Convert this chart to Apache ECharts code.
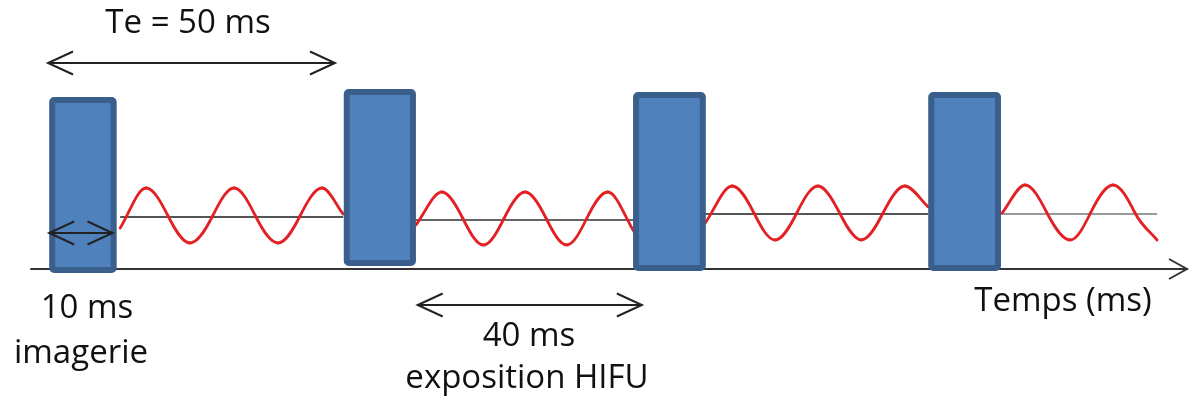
<!DOCTYPE html>
<html>
<head>
<meta charset="utf-8">
<script src="https://cdn.jsdelivr.net/npm/echarts@6/dist/echarts.min.js"></script>
<style>
  html, body { margin: 0; padding: 0; background: #ffffff; }
  #chart { width: 1189px; height: 410px; }
</style>
</head>
<body>
<div id="chart"></div>
<script>
// ---- data (time in ms, vertical in arbitrary units) ----
// imaging blocks: [start, end, top, bottom]
const imagingBlocks = [
  [0.1, 11.6, 6.88, -0.16],
  [50.3, 62.6, 7.2, 0.12],
  [99.6, 112.0, 7.08, -0.08],
  [149.9, 162.3, 7.08, -0.08]
];
// HIFU waves: [time, amplitude] at start, peaks, crossings, troughs, end
const hifuWave1 = [[12.2,1.64],[16.6,3.24],[20.4,2.1],[24.1,1.04],[27.9,2.1],[31.6,3.24],[35.3,2.1],[39.1,1.04],[42.8,2.1],[46.6,3.24],[50.2,2.2]];
const hifuWave2 = [[62.6,1.76],[67.0,3.08],[70.6,2.02],[74.1,0.96],[77.6,2.02],[81.2,3.08],[84.8,2.02],[88.3,0.96],[91.7,2.02],[95.3,3.08],[99.8,1.48]];
const hifuWave3 = [[111.9,1.84],[116.5,3.32],[120.2,2.24],[123.8,1.16],[127.5,2.24],[131.1,3.32],[134.8,2.24],[138.5,1.16],[142.2,2.24],[145.9,3.32],[149.9,2.48]];
const hifuWave4 = [[162.5,2.24],[166.4,3.36],[170.1,2.26],[174.1,1.16],[177.6,2.26],[181.4,3.36],[185.1,2.26],[188.9,1.16]];
// HIFU reference lines: [start, end, level]
const hifuBaselines = [[12.2, 50.2, 2.08], [62.6, 99.8, 1.96], [111.9, 149.9, 2.2], [162.1, 188.9, 2.2]];
// span arrows: [start, end, level, leftHead, rightHead]
const spanArrows = [[-0.1, 48.8, 8.24, 1, 1], [0.1, 10.9, 1.44, 1, 1], [62.9, 101.1, -1.44, 1, 1], [190.5, 194, 0, 0, 1]];
// texts
const labelTexts = ['Te = 50 ms', '10 ms', 'imagerie', '40 ms', 'exposition HIFU', 'Temps (ms)'];
const timeRange = [-3, 194];
const levelRange = [-5.6, 10];

const chart = echarts.init(document.getElementById('chart'), null, { renderer: 'canvas' });

const baselineColors = ['#555555', '#666666', '#555555', '#9a9a9a'];
const waves = [hifuWave1, hifuWave2, hifuWave3, hifuWave4];

function waveRenderer(wave) {
  return (params, api) => {
    const i = params.dataIndex;
    if (i >= wave.length - 1) return null;
    const P = wave.map(p => api.coord(p));
    const slope = j => {
      if (j === 0) return (P[1][1] - P[0][1]) / (P[1][0] - P[0][0]);
      if (j === P.length - 1) return (P[j][1] - P[j - 1][1]) / (P[j][0] - P[j - 1][0]);
      const a = P[j - 1][1] - P[j][1], b = P[j + 1][1] - P[j][1];
      if (a * b > 0) return 0;
      return (Math.PI / 2) * (P[j + 1][1] - P[j - 1][1]) / (P[j + 1][0] - P[j - 1][0]);
    };
    const p0 = P[i], p1 = P[i + 1];
    const dx = (p1[0] - p0[0]) / 3;
    const s0 = slope(i), s1 = slope(i + 1);
    return {
      type: 'bezierCurve',
      shape: {
        x1: p0[0], y1: p0[1], x2: p1[0], y2: p1[1],
        cpx1: p0[0] + dx, cpy1: p0[1] + s0 * dx,
        cpx2: p1[0] - dx, cpy2: p1[1] - s1 * dx
      },
      style: { stroke: '#e32124', lineWidth: 2.8, fill: null, lineCap: 'round' }
    };
  };
}

const series = [];
hifuBaselines.forEach((b, i) => {
  series.push({
    type: 'line', data: [[b[0], b[2]], [b[1], b[2]]], symbol: 'none', silent: true,
    lineStyle: { color: baselineColors[i], width: 2 }, z: 2
  });
});
waves.forEach(w => {
  series.push({
    type: 'custom', data: w, silent: true, z: 3, clip: false,
    encode: { x: 0, y: 1 },
    renderItem: waveRenderer(w)
  });
});
series.push({
  type: 'custom', data: imagingBlocks, z: 4, silent: true,
  encode: { x: [0, 1], y: [2, 3] },
  renderItem: (params, api) => {
    const p1 = api.coord([api.value(0), api.value(2)]);
    const p2 = api.coord([api.value(1), api.value(3)]);
    const lw = 6;
    return {
      type: 'rect',
      shape: { x: p1[0] + lw / 2, y: p1[1] + lw / 2, width: p2[0] - p1[0] - lw, height: p2[1] - p1[1] - lw, r: 2 },
      style: { fill: '#4f81bd', stroke: '#3a5f8c', lineWidth: lw }
    };
  }
});
series.push({
  type: 'custom', data: spanArrows, z: 5, silent: true, clip: false,
  encode: { x: [0, 1], y: 2 },
  renderItem: (params, api) => {
    const a = api.coord([api.value(0), api.value(2)]);
    const b = api.coord([api.value(1), api.value(2)]);
    const isAxis = params.dataIndex === spanArrows.length - 1;
    const hl = isAxis ? 18 : 25, hh = isAxis ? 10 : 11.5;
    const style = { stroke: isAxis ? '#333' : '#222', lineWidth: 2, fill: null };
    const children = [];
    if (!isAxis) children.push({ type: 'line', shape: { x1: a[0], y1: a[1], x2: b[0], y2: b[1] }, style });
    if (api.value(3)) children.push({ type: 'polyline', shape: { points: [[a[0] + hl, a[1] - hh], [a[0], a[1]], [a[0] + hl, a[1] + hh]] }, style });
    if (api.value(4)) children.push({ type: 'polyline', shape: { points: [[b[0] - hl, b[1] - hh], [b[0], b[1]], [b[0] - hl, b[1] + hh]] }, style });
    return { type: 'group', children };
  }
});

const font = '33px "Open Sans"';
const labelPlacement = [[188, 24], [87, 309], [81, 354], [529, 337], [527, 379], [1063, 302]];
const graphic = labelTexts.map((t, i) => ({
  type: 'text', x: labelPlacement[i][0], y: labelPlacement[i][1], silent: true,
  style: { text: t, font, fill: '#111111', align: 'center', verticalAlign: 'middle' }
}));

chart.setOption({
  animation: false,
  backgroundColor: '#ffffff',
  grid: { left: 31, right: 2, top: 19, bottom: 1 },
  xAxis: {
    type: 'value', min: timeRange[0], max: timeRange[1],
    axisLine: { show: true, onZero: true, lineStyle: { color: '#333333', width: 2 } },
    axisTick: { show: false }, axisLabel: { show: false }, splitLine: { show: false }
  },
  yAxis: {
    type: 'value', min: levelRange[0], max: levelRange[1], show: false,
    splitLine: { show: false }
  },
  series,
  graphic
});
</script>
</body>
</html>
